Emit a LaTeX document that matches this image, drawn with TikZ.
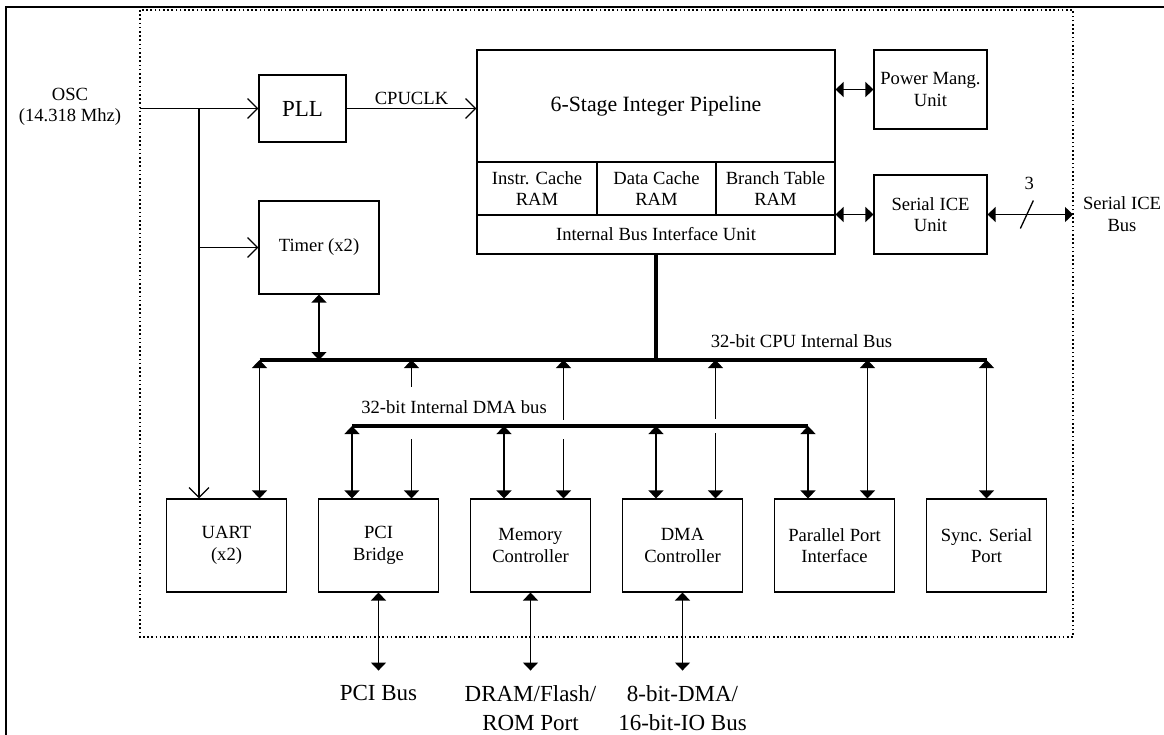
\documentclass[tikz,border=0pt]{standalone}
\usepackage{fontspec}
\setmainfont{Liberation Serif}
\usetikzlibrary{arrows.meta}

\begin{document}
\begin{tikzpicture}[x=1pt,y=-1pt,node distance=152pt,>={Triangle[length=8pt,width=15pt]}]
  \tikzstyle{block}=[rectangle,draw,line width=1.1pt,inner sep=0pt,align=center,
              font=\fontsize{18.6}{21.5}\selectfont]
  \tikzstyle{unit}=[block,minimum width=120pt,minimum height=93pt]
  \tikzstyle{lbl}=[font=\fontsize{18.6}{21.5}\selectfont,align=center]
  \tikzstyle{ext}=[font=\fontsize{23}{29}\selectfont,align=center,
              inner xsep=0pt,inner ysep=15pt,anchor=north]
  \tikzstyle{link}=[line width=1.3pt]
  \tikzstyle{clk}=[link,-{Straight Barb[length=10pt,width=20pt]}]
  \tikzstyle{bus}=[line width=4pt]

  \useasboundingbox (0,0) rectangle (1164,734);
  % frame and chip boundary
  \draw[line width=2pt] (6,740) -- (6,7) -- (1170,7);
  \draw[line width=1.3pt,dash pattern=on 1.6pt off 2.6pt] (140,10) rectangle (1073,637);

  % clock and timer
  \node[lbl] (osc) at (70,107) {OSC\\(14.318 Mhz)};
  \node[block,minimum width=87pt,minimum height=67pt,
        font=\fontsize{23}{29}\selectfont] (pll) at (302.5,108.5) {PLL};
  \node[unit] (timer) at (319,247.5) {Timer (x2)};

  % cpu core
  \node[block,minimum width=358pt,minimum height=112pt,
        font=\fontsize{21.8}{26}\selectfont] (pipe) at (656,106) {6-Stage Integer Pipeline};
  \node[block,minimum width=120pt,minimum height=53pt] (icache) at (537,188.5) {Instr. Cache\\RAM};
  \node[block,minimum width=119pt,minimum height=53pt] (dcache) [right of=icache,node distance=119.5pt] {Data Cache\\RAM};
  \node[block,minimum width=119pt,minimum height=53pt] (btab) [right of=dcache,node distance=119pt] {Branch Table\\RAM};
  \node[block,minimum width=358pt,minimum height=39pt] (biu) at (656,234.5) {Internal Bus Interface Unit};
  \node[block,minimum width=113pt,minimum height=79pt] (pmu) at (930.5,89.5) {Power Mang.\\Unit};
  \node[block,minimum width=113pt,minimum height=79pt] (ice) at (930.5,214.5) {Serial ICE\\Unit};
  \node[lbl] (icelbl) at (1122,214) {Serial ICE\\Bus};

  % peripherals
  \node[unit] (uart) at (226.5,545.5) {UART\\(x2)};
  \node[unit] (pci) [right of=uart] {PCI\\Bridge};
  \node[unit] (memctl) [right of=pci] {Memory\\Controller};
  \node[unit] (dmactl) [right of=memctl] {DMA\\Controller};
  \node[unit] (ppi) [right of=dmactl] {Parallel Port\\Interface};
  \node[unit] (ssp) [right of=ppi] {Sync. Serial\\Port};

  \node[ext] (pcibus) at ([yshift=-78pt]pci.south) {PCI Bus};
  \node[ext] (dram) at ([yshift=-78pt]memctl.south) {DRAM/Flash/\\ROM Port};
  \node[ext] (isa) at ([yshift=-78pt]dmactl.south) {8-bit-DMA/\\16-bit-IO Bus};

  % clock lines
  \coordinate (oscin) at (140,108.5);
  \coordinate (tap) at (199,108.5);
  \draw[clk] (oscin) -- (pll.west);
  \draw[clk] (tap) -- (tap |- uart.north);
  \draw[clk] (tap |- timer.west) -- (timer.west);
  \draw[clk] (pll.east) -- node[lbl,above] {CPUCLK} (pll.east -| pipe.west);

  \draw[link,<->] (pmu.west -| pipe.east) -- (pmu.west);
  \draw[link,<->] (ice.west -| biu.east) -- (ice.west);
  \coordinate (icebus) at (1073,214.5);
  \draw[link,<->] (ice.east) -- coordinate[pos=.46] (tick) (icebus);
  \draw[link] ([shift={(-6.5,14)}]tick) -- ([shift={(6.5,-14)}]tick);
  \node[lbl] at ([shift={(2.5,-31)}]tick) {3};

  % buses
  \coordinate (cpubus) at (0,360);
  \coordinate (dmabus) at (0,426);
  \draw[link,<->] (timer.south) -- (timer.south |- cpubus);
  \foreach \b in {uart,ppi}
    \draw[link,<->] ([xshift=33pt]\b.north) -- ([xshift=33pt]\b.north |- cpubus);
  \draw[link,<->] (ssp.north) -- (ssp.north |- cpubus);
  \foreach \b/\ga/\gb in {pci/387/439,memctl/420/439,dmactl/419/433} {
    \draw[link,<-] ([xshift=33pt]\b.north |- cpubus) -- ([xshift=33pt]\b.north |- 0,\ga);
    \draw[link,->] ([xshift=33pt]\b.north |- 0,\gb) -- ([xshift=33pt]\b.north);
  }
  \foreach \b in {pci,memctl,dmactl,ppi}
    \draw[link,<->] ([xshift=-26.5pt]\b.north) -- ([xshift=-26.5pt]\b.north |- dmabus);
  \foreach \b/\e in {pci/pcibus,memctl/dram,dmactl/isa}
    \draw[link,<->] (\b.south) -- (\e.north);

  \draw[bus] (biu.south) -- (biu.south |- cpubus);
  \draw[bus] ([xshift=33pt]uart.north |- cpubus) -- (ssp.north |- cpubus);
  \draw[bus] ([xshift=-26.5pt]pci.north |- dmabus) -- ([xshift=-26.5pt]ppi.north |- dmabus);
  \node[lbl] at (801.5,341.5) {32-bit CPU Internal Bus};
  \node[lbl] at (454,407.5) {32-bit Internal DMA bus};
\end{tikzpicture}
\end{document}
